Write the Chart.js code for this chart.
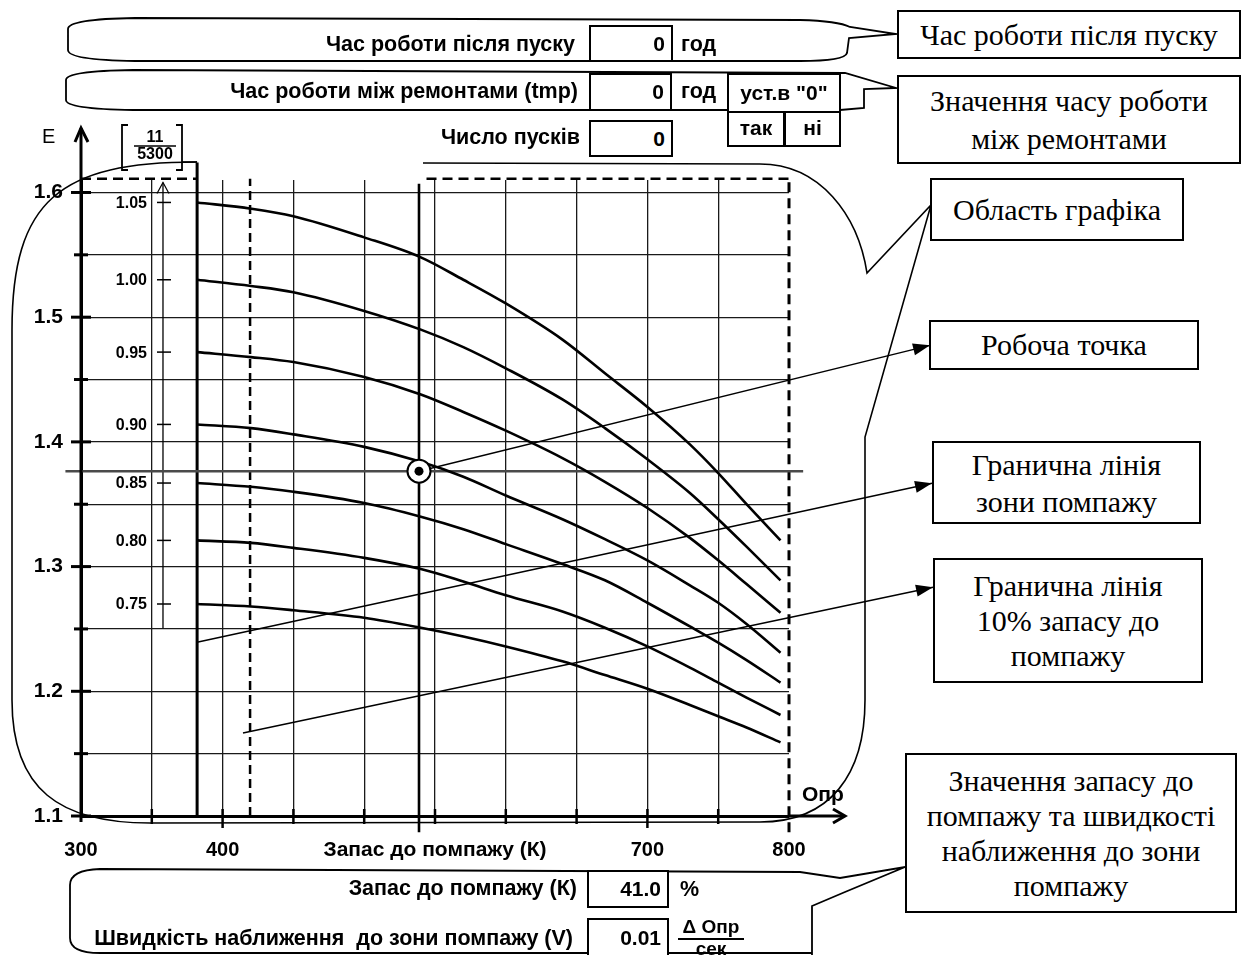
<!DOCTYPE html>
<html lang="uk">
<head>
<meta charset="utf-8">
<title>Запас до помпажу</title>
<script src="https://cdn.jsdelivr.net/npm/chart.js@4.4.1/dist/chart.umd.min.js"></script>
<style>
  html, body { margin: 0; padding: 0; background: #fff; }
  #page { position: relative; width: 1243px; height: 955px; overflow: hidden; font-family: 'Liberation Sans', Arial, sans-serif; color: #000; }
  #chart { position: absolute; left: 0; top: 0; }
  .t { position: absolute; font-weight: bold; font-size: 21.5px; line-height: 24px; white-space: pre; }
  .r { text-align: right; }
  .val { position: absolute; box-sizing: border-box; border: 2px solid #000; font-weight: bold; font-size: 21px; text-align: right; padding-right: 6px; background: #fff; }
  .btn { position: absolute; box-sizing: border-box; border: 2px solid #000; font-weight: bold; font-size: 21px; text-align: center; background: #fff; }
  .note { position: absolute; box-sizing: border-box; border: 2px solid #000; font-family: 'Liberation Serif', 'Times New Roman', serif; font-size: 30px; text-align: center; background: #fff; display: flex; flex-direction: column; justify-content: center; }
  .frac { position: absolute; font-weight: bold; font-size: 19px; text-align: center; }
</style>
</head>
<body>
<div id="page">
  <canvas id="chart" width="1243" height="955"></canvas>

  <!-- top panel -->
  <div class="t r" style="left:150px;width:425px;top:32px">Час роботи після пуску</div>
  <div class="val" style="left:589px;top:25px;width:84px;height:37px;line-height:33px">0</div>
  <div class="t" style="left:681px;top:32px">год</div>

  <div class="t r" style="left:100px;width:478px;top:79px">Час роботи між ремонтами (tmp)</div>
  <div class="val" style="left:589px;top:73px;width:83px;height:38px;line-height:34px">0</div>
  <div class="t" style="left:681px;top:79px">год</div>
  <div class="btn" style="left:727px;top:73px;width:114px;height:40px;line-height:36px">уст.в "0"</div>
  <div class="btn" style="left:727px;top:111px;width:58px;height:36px;line-height:30px">так</div>
  <div class="btn" style="left:783px;top:111px;width:58px;height:36px;line-height:30px;border-left-width:3px">ні</div>

  <div class="t r" style="left:300px;width:280px;top:125px">Число пусків</div>
  <div class="val" style="left:589px;top:120px;width:84px;height:37px;line-height:33px">0</div>

  <!-- chart labels -->
  <div class="t" style="left:42px;top:124px;font-weight:normal;font-size:20px">E</div>
  <div class="t" style="left:130px;width:50px;top:126px;font-size:16px;line-height:22px;text-align:center">11</div>
  <div class="t" style="left:130px;width:50px;top:143px;font-size:16px;line-height:22px;text-align:center">5300</div>
  <div class="t" style="left:802px;top:782px;font-size:21px">Опр</div>

  <!-- bottom panel -->
  <div class="t r" style="left:200px;width:377px;top:876px">Запас до помпажу (К)</div>
  <div class="val" style="left:587px;top:870px;width:82px;height:38px;line-height:34px">41.0</div>
  <div class="t" style="left:680px;top:877px">%</div>
  <div class="t r" style="left:40px;width:533px;top:926px">Швидкість наближення  до зони помпажу (V)</div>
  <div class="val" style="left:587px;top:918px;width:82px;height:40px;line-height:36px">0.01</div>
  <div class="frac" style="left:678px;top:916px;width:66px">
    <div style="border-bottom:2px solid #000;line-height:22px">Δ Опр</div>
    <div style="line-height:17px">сек</div>
  </div>

  <!-- callout notes -->
  <div class="note" style="left:897px;top:10px;width:344px;height:49px">Час роботи після пуску</div>
  <div class="note" style="left:897px;top:75px;width:344px;height:89px;line-height:38px">Значення часу роботи<br>між ремонтами</div>
  <div class="note" style="left:930px;top:178px;width:254px;height:63px">Область графіка</div>
  <div class="note" style="left:929px;top:320px;width:270px;height:50px">Робоча точка</div>
  <div class="note" style="left:932px;top:441px;width:269px;height:83px;line-height:37px">Гранична лінія<br>зони помпажу</div>
  <div class="note" style="left:933px;top:558px;width:270px;height:125px;line-height:35px">Гранична лінія<br>10% запасу до<br>помпажу</div>
  <div class="note" style="left:905px;top:753px;width:332px;height:160px;line-height:35px">Значення запасу до<br>помпажу та швидкості<br>наближення до зони<br>помпажу</div>
</div>

<script>
// axes
const xTickValues = [300, 350, 400, 450, 500, 550, 600, 650, 700, 750, 800];
const xTickText = ['300', '', '400', '', '', '', '', '', '700', '', '800'];
const yTickValues = [1.1, 1.15, 1.2, 1.25, 1.3, 1.35, 1.4, 1.45, 1.5, 1.55, 1.6];
const yTickText = ['1.1', '', '1.2', '', '1.3', '', '1.4', '', '1.5', '', '1.6'];

// characteristic curves E(Q) for relative speeds
const flow = [382, 420, 450, 500, 540, 570, 600, 640, 670, 700, 730, 750, 770, 794];
const speedLabels = ['1.05', '1.00', '0.95', '0.90', '0.85', '0.80', '0.75'];
const e105 = [1.592, 1.587, 1.581, 1.564, 1.548, 1.530, 1.511, 1.482, 1.455, 1.428, 1.398, 1.375, 1.350, 1.321];
const e100 = [1.530, 1.525, 1.520, 1.505, 1.490, 1.476, 1.459, 1.434, 1.411, 1.386, 1.359, 1.338, 1.316, 1.289];
const e095 = [1.472, 1.468, 1.464, 1.452, 1.438, 1.424, 1.409, 1.387, 1.368, 1.347, 1.323, 1.305, 1.286, 1.263];
const e090 = [1.414, 1.411, 1.406, 1.396, 1.384, 1.372, 1.357, 1.338, 1.322, 1.305, 1.285, 1.271, 1.254, 1.231];
const e085 = [1.367, 1.364, 1.360, 1.351, 1.340, 1.330, 1.318, 1.302, 1.289, 1.271, 1.252, 1.239, 1.225, 1.207];
const e080 = [1.321, 1.319, 1.315, 1.307, 1.298, 1.288, 1.277, 1.264, 1.251, 1.236, 1.219, 1.207, 1.195, 1.181];
const e075 = [1.270, 1.268, 1.265, 1.259, 1.251, 1.244, 1.236, 1.224, 1.213, 1.202, 1.189, 1.180, 1.171, 1.159];
const speedCurves = [e105, e100, e095, e090, e085, e080, e075];

// working point and helper lines
const opPoint = [538.7, 1.3765];
const opHLineX = [289, 810];
const opVLineE = [1.087, 1.607];
const opArrowX = [538.7, 899.6];
const opArrowE = [1.3765, 1.4774];
const surgeX = [381.9, 901.0];
const surgeE = [1.2394, 1.3668];
const marginX = [414.4, 901.7];
const marginE = [1.1665, 1.2835];
const leftLimitX = 382;
const leftLimitE = [1.1, 1.624];
const startLimitX = 419.4;
const startLimitE = [1.1, 1.611];
const rightLimitX = 800;
const rightLimitE = [1.087, 1.611];
const topDashX = [300, 382, 460, 544, 800];
const topDashE = [1.611, 1.611, null, 1.611, 1.611];
const scaleMarkX = 357.9;
const scaleMarkE = [1.2506, 1.608];

const pts = (xs, ys) => xs.map((x, i) => ({ x: x, y: ys[i] }));

function lineSet(data, width, dash, color) {
  return {
    data: data,
    borderColor: color || '#000',
    borderWidth: width,
    borderDash: dash || [],
    pointRadius: 0,
    fill: false,
    clip: false
  };
}

function seg(ctx, p, w, dash) {
  ctx.beginPath();
  ctx.lineWidth = w;
  ctx.setLineDash(dash || []);
  p.forEach((q, i) => i ? ctx.lineTo(q[0], q[1]) : ctx.moveTo(q[0], q[1]));
  ctx.stroke();
  ctx.setLineDash([]);
}

function head(ctx, from, to, len, half) {
  const a = Math.atan2(to[1] - from[1], to[0] - from[0]);
  ctx.beginPath();
  ctx.moveTo(to[0], to[1]);
  ctx.lineTo(to[0] - len * Math.cos(a) + half * Math.sin(a), to[1] - len * Math.sin(a) - half * Math.cos(a));
  ctx.lineTo(to[0] - len * Math.cos(a) - half * Math.sin(a), to[1] - len * Math.sin(a) + half * Math.cos(a));
  ctx.closePath();
  ctx.fill();
}

// callout shapes, axis arrows, tick marks, curve captions
const decor = {
  id: 'decor',
  afterDraw(chart) {
    const ctx = chart.ctx;
    const X = v => chart.scales.x.getPixelForValue(v);
    const Y = v => chart.scales.y.getPixelForValue(v);
    const x0 = X(300), y0 = Y(1.1);
    ctx.save();
    ctx.strokeStyle = '#000';
    ctx.fillStyle = '#000';

    // axis arrows
    seg(ctx, [[x0, y0 + 6], [x0, 128]], 3);
    seg(ctx, [[x0 - 6, 142], [x0, 128], [x0 + 7, 142]], 3);
    seg(ctx, [[X(800), y0], [844, y0]], 3);
    seg(ctx, [[833, y0 - 7], [845, y0], [833, y0 + 7]], 3);

    // tick marks
    yTickValues.forEach((v, i) => {
      const l = yTickText[i] ? 10 : 7;
      seg(ctx, [[x0 - l, Y(v)], [x0 + l, Y(v)]], 3);
    });
    xTickValues.slice(1, -1).forEach((v, i) => {
      seg(ctx, [[X(v), y0 - 7], [X(v), y0 + (xTickText[i + 1] ? 12 : 8)]], 2.5);
    });

    // relative speed scale
    const sx = X(scaleMarkX);
    seg(ctx, [[sx - 6, Y(scaleMarkE[1]) + 11], [sx, Y(scaleMarkE[1])], [sx + 6, Y(scaleMarkE[1]) + 11]], 1.2);
    ctx.font = 'bold 16px "Liberation Sans", Arial, sans-serif';
    ctx.textAlign = 'right';
    ctx.textBaseline = 'middle';
    speedCurves.forEach((c, i) => {
      const y = Y(c[0]);
      seg(ctx, [[sx - 6, y], [sx + 8, y]], 1.5);
      ctx.fillText(speedLabels[i], 147, y + 1);
    });

    // bracket round the scale caption
    seg(ctx, [[128, 125], [122, 125], [122, 170], [128, 170]], 1.8);
    seg(ctx, [[176, 125], [182, 125], [182, 170], [176, 170]], 1.8);
    seg(ctx, [[134, 146], [176, 146]], 1.3);
    seg(ctx, [[182, 162], [X(leftLimitX), 162]], 1.5);

    // arrow heads on callout lines
    head(ctx, [X(opArrowX[0]), Y(opArrowE[0])], [X(opArrowX[1]), Y(opArrowE[1])], 17, 6);
    head(ctx, [X(surgeX[0]), Y(surgeE[0])], [X(surgeX[1]), Y(surgeE[1])], 17, 6);
    head(ctx, [X(marginX[0]), Y(marginE[0])], [X(marginX[1]), Y(marginE[1])], 17, 6);

    // row bubbles of the top panel
    ctx.lineWidth = 1.8;
    ctx.beginPath();
    ctx.moveTo(135, 18);
    ctx.lineTo(800, 20);
    ctx.quadraticCurveTo(838, 21, 850, 27);
    ctx.lineTo(896, 34);
    ctx.lineTo(849, 38);
    ctx.lineTo(847, 53);
    ctx.quadraticCurveTo(845, 61, 800, 61);
    ctx.lineTo(135, 61);
    ctx.quadraticCurveTo(68, 60, 68, 50);
    ctx.lineTo(68, 29);
    ctx.quadraticCurveTo(68, 19, 135, 18);
    ctx.stroke();

    ctx.beginPath();
    ctx.moveTo(133, 70);
    ctx.lineTo(845, 73);
    ctx.lineTo(896, 88);
    ctx.lineTo(864, 89);
    ctx.lineTo(864, 108);
    ctx.lineTo(840, 110);
    ctx.lineTo(133, 110);
    ctx.quadraticCurveTo(66, 109, 66, 100);
    ctx.lineTo(66, 80);
    ctx.quadraticCurveTo(66, 71, 133, 70);
    ctx.stroke();

    // chart area bubble
    ctx.lineWidth = 1.6;
    ctx.beginPath();
    ctx.moveTo(423, 163);
    ctx.lineTo(760, 164);
    ctx.bezierCurveTo(820, 164, 858, 215, 867, 273);
    ctx.lineTo(931, 205);
    ctx.lineTo(865, 437);
    ctx.lineTo(865, 700);
    ctx.bezierCurveTo(865, 775, 830, 822, 760, 822);
    ctx.lineTo(150, 823);
    ctx.bezierCurveTo(60, 823, 12, 790, 12, 700);
    ctx.lineTo(12, 330);
    ctx.bezierCurveTo(12, 200, 60, 162, 197, 162);
    ctx.stroke();

    // bottom panel bubble
    ctx.lineWidth = 1.8;
    ctx.beginPath();
    ctx.moveTo(812, 960);
    ctx.lineTo(812, 906);
    ctx.lineTo(845, 892);
    ctx.lineTo(905, 867);
    ctx.lineTo(840, 878);
    ctx.lineTo(800, 872);
    ctx.lineTo(100, 869);
    ctx.quadraticCurveTo(70, 870, 70, 885);
    ctx.lineTo(70, 938);
    ctx.quadraticCurveTo(70, 953, 100, 953);
    ctx.lineTo(812, 953);
    ctx.stroke();

    ctx.restore();
  }
};

Chart.defaults.font.family = '"Liberation Sans", Arial, sans-serif';
Chart.defaults.color = '#000';

const datasets = [
  { data: [{ x: opPoint[0], y: opPoint[1] }], showLine: false, pointRadius: 4.5, pointBackgroundColor: '#000', pointBorderWidth: 0, clip: false },
  { data: [{ x: opPoint[0], y: opPoint[1] }], showLine: false, pointRadius: 11.5, pointBackgroundColor: '#fff', pointBorderColor: '#000', pointBorderWidth: 2, clip: false }
];
speedCurves.forEach(c => {
  const ds = lineSet(pts(flow, c), 2.6);
  ds.cubicInterpolationMode = 'monotone';
  datasets.push(ds);
});
datasets.push(lineSet(pts(opArrowX, opArrowE), 1.5));
datasets.push(lineSet(pts(surgeX, surgeE), 1.5));
datasets.push(lineSet(pts(marginX, marginE), 1.5));
datasets.push(lineSet(pts(opHLineX, [opPoint[1], opPoint[1]]), 2.4, [], '#4a4a4a'));
datasets.push(lineSet(pts([opPoint[0], opPoint[0]], opVLineE), 2.6));
datasets.push(lineSet(pts([leftLimitX, leftLimitX], leftLimitE), 3));
datasets.push(lineSet(pts([startLimitX, startLimitX], startLimitE), 2.5, [9, 5]));
datasets.push(lineSet(pts([rightLimitX, rightLimitX], rightLimitE), 3, [10, 6]));
datasets.push(lineSet(pts(topDashX, topDashE), 2.5, [10, 6]));
datasets.push(lineSet(pts([scaleMarkX, scaleMarkX], scaleMarkE), 1.3));

new Chart(document.getElementById('chart'), {
  type: 'line',
  data: { datasets: datasets },
  plugins: [decor],
  options: {
    responsive: false,
    animation: false,
    events: [],
    spanGaps: false,
    layout: { padding: { left: 21, top: 180, right: 454, bottom: 92 } },
    plugins: { legend: { display: false }, tooltip: { enabled: false } },
    scales: {
      x: {
        type: 'linear',
        min: 300,
        max: 800,
        afterBuildTicks: s => { s.ticks = xTickValues.map(v => ({ value: v })); },
        afterFit: s => { s.height = 47; },
        ticks: {
          autoSkip: false,
          maxRotation: 0,
          padding: 22,
          font: { size: 20, weight: 'bold' },
          callback: (v, i) => xTickText[i]
        },
        grid: {
          drawTicks: false,
          lineWidth: 1.3,
          color: c => (c.tick && (c.tick.value === 300 || c.tick.value === 800)) ? 'rgba(0,0,0,0)' : '#1a1a1a'
        },
        border: { color: '#000', width: 3 },
        title: {
          display: true,
          text: 'Запас до помпажу (К)',
          font: { size: 21, weight: 'bold' },
          padding: { top: 0, bottom: 0 }
        }
      },
      y: {
        type: 'linear',
        min: 1.1,
        max: 1.61,
        afterBuildTicks: s => { s.ticks = yTickValues.map(v => ({ value: v })); },
        afterFit: s => { s.width = 60; },
        ticks: {
          autoSkip: false,
          padding: 18,
          font: { size: 21, weight: 'bold' },
          callback: (v, i) => yTickText[i]
        },
        grid: {
          drawTicks: false,
          lineWidth: 1.3,
          color: c => (c.tick && c.tick.value === 1.1) ? 'rgba(0,0,0,0)' : '#1a1a1a'
        },
        border: { color: '#000', width: 3 }
      }
    }
  }
});
</script>
</body>
</html>
